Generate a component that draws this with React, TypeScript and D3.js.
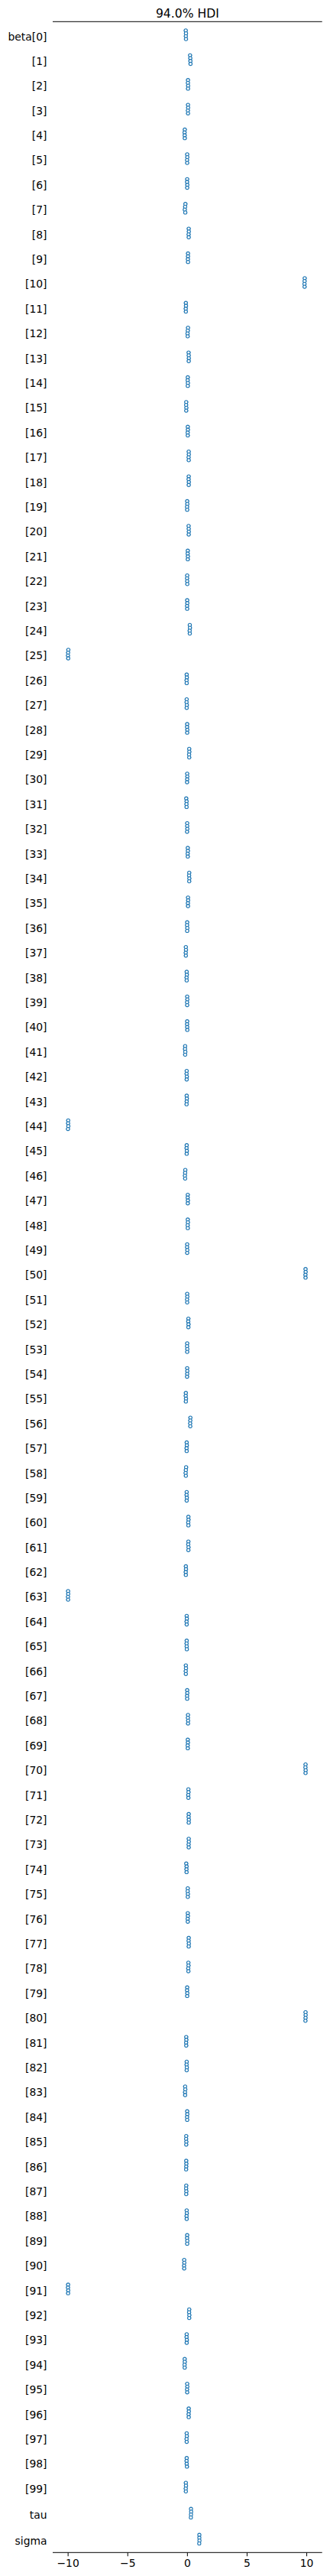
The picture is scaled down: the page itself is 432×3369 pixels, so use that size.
import React from "react";
import * as d3 from "d3";

const labels: string[] = [
  "beta[0]",
  ...Array.from({ length: 99 }, (_, i) => `[${i + 1}]`),
  "tau",
  "sigma",
];

// chain medians, 4 chains per row (beta[0..99], tau, sigma)
const chainMedians: number[][] = [
  [-0.14, -0.12, -0.13, -0.12],
  [0.22, 0.24, 0.25, 0.26],
  [0.05, 0.04, 0.06, 0.05],
  [0.05, 0.06, 0.04, 0.05],
  [-0.22, -0.24, -0.23, -0.22],
  [-0.02, -0.01, -0.03, -0.02],
  [-0.02, -0.03, -0.01, -0.02],
  [-0.17, -0.19, -0.22, -0.18],
  [0.11, 0.12, 0.1, 0.11],
  [0.05, 0.05, 0.04, 0.05],
  [9.83, 9.82, 9.81, 9.82],
  [-0.13, -0.12, -0.14, -0.13],
  [0.05, 0.03, 0.01, 0.02],
  [0.1, 0.11, 0.12, 0.11],
  [0.03, 0.02, 0.04, 0.03],
  [-0.1, -0.11, -0.09, -0.1],
  [0.03, 0.04, 0.02, 0.03],
  [0.11, 0.12, 0.1, 0.11],
  [0.11, 0.1, 0.12, 0.11],
  [-0.02, -0.01, -0.03, -0.02],
  [0.1, 0.11, 0.12, 0.11],
  [0.03, 0.02, 0.04, 0.03],
  [-0.02, -0.03, -0.02, -0.01],
  [-0.02, -0.01, -0.03, -0.02],
  [0.2, 0.21, 0.19, 0.2],
  [-9.98, -10.0, -10.01, -9.99],
  [-0.06, -0.05, -0.07, -0.06],
  [-0.06, -0.07, -0.05, -0.06],
  [-0.02, -0.03, -0.01, -0.02],
  [0.15, 0.16, 0.14, 0.15],
  [-0.02, -0.01, -0.02, -0.03],
  [-0.1, -0.07, -0.08, -0.07],
  [-0.02, -0.02, -0.01, -0.03],
  [0.03, 0.04, 0.02, 0.03],
  [0.15, 0.14, 0.16, 0.15],
  [0.05, 0.06, 0.04, 0.05],
  [-0.02, -0.03, -0.01, -0.02],
  [-0.13, -0.12, -0.14, -0.13],
  [-0.06, -0.05, -0.07, -0.06],
  [-0.02, -0.01, -0.03, -0.02],
  [-0.02, -0.03, -0.02, -0.01],
  [-0.19, -0.2, -0.18, -0.19],
  [-0.06, -0.07, -0.05, -0.06],
  [-0.06, -0.05, -0.06, -0.07],
  [-9.99, -10.0, -9.98, -10.01],
  [-0.06, -0.07, -0.05, -0.06],
  [-0.18, -0.19, -0.21, -0.19],
  [0.03, 0.02, 0.04, 0.03],
  [0.03, 0.04, 0.02, 0.03],
  [-0.02, -0.03, -0.01, -0.02],
  [9.9, 9.91, 9.89, 9.9],
  [-0.02, -0.01, -0.03, -0.02],
  [0.08, 0.07, 0.09, 0.08],
  [-0.02, -0.03, -0.01, -0.02],
  [-0.02, -0.01, -0.02, -0.03],
  [-0.13, -0.14, -0.12, -0.13],
  [0.25, 0.24, 0.23, 0.24],
  [-0.06, -0.05, -0.07, -0.06],
  [-0.11, -0.13, -0.15, -0.13],
  [-0.06, -0.07, -0.05, -0.06],
  [0.08, 0.09, 0.07, 0.08],
  [0.08, 0.07, 0.09, 0.08],
  [-0.13, -0.12, -0.14, -0.13],
  [-10.0, -9.99, -10.01, -10.0],
  [-0.06, -0.05, -0.07, -0.06],
  [-0.06, -0.07, -0.06, -0.05],
  [-0.13, -0.12, -0.14, -0.13],
  [-0.02, -0.01, -0.03, -0.02],
  [0.05, 0.04, 0.06, 0.05],
  [0.03, 0.04, 0.02, 0.03],
  [9.9, 9.89, 9.91, 9.9],
  [0.08, 0.09, 0.07, 0.08],
  [0.11, 0.1, 0.12, 0.11],
  [0.11, 0.12, 0.1, 0.11],
  [-0.1, -0.07, -0.08, -0.07],
  [0.03, 0.02, 0.04, 0.03],
  [0.03, 0.04, 0.02, 0.03],
  [0.11, 0.1, 0.12, 0.11],
  [0.08, 0.09, 0.07, 0.08],
  [-0.02, -0.03, -0.01, -0.02],
  [9.9, 9.91, 9.9, 9.89],
  [-0.1, -0.09, -0.11, -0.1],
  [-0.06, -0.07, -0.05, -0.06],
  [-0.19, -0.18, -0.2, -0.19],
  [-0.02, -0.01, -0.03, -0.02],
  [-0.1, -0.11, -0.09, -0.1],
  [-0.1, -0.09, -0.1, -0.11],
  [-0.1, -0.11, -0.09, -0.1],
  [-0.06, -0.05, -0.07, -0.06],
  [-0.02, -0.03, -0.01, -0.02],
  [-0.27, -0.26, -0.28, -0.27],
  [-10.0, -10.01, -9.99, -10.0],
  [0.15, 0.14, 0.16, 0.15],
  [-0.06, -0.07, -0.05, -0.06],
  [-0.23, -0.22, -0.24, -0.23],
  [-0.02, -0.01, -0.03, -0.02],
  [0.11, 0.12, 0.1, 0.11],
  [-0.06, -0.05, -0.07, -0.06],
  [-0.06, -0.07, -0.06, -0.04],
  [-0.13, -0.12, -0.14, -0.13],
  [0.3, 0.31, 0.3, 0.29],
  [1.0, 1.0, 1.01, 0.99],
];

// half width of each chain's 94% HDI, per variable (beta, tau, sigma)
const hdiHalfWidth: number[] = [0.17, 0.12, 0.1];

const xTicks: number[] = [-10, -5, 0, 5, 10];
const title = "94.0% HDI";

const W = 432;
const H = 3369;
const left = 69;
const right = 421.7;
const topY = 28.3;
const bottomY = 3338.3;
const varGap = 1.05;

function rowPos(i: number): number {
  if (i < 100) return i;
  return 99 + (i - 99) * varGap;
}

export default function App() {
  const x = d3.scaleLinear().domain([-11.29, 11.29]).range([left, right]);
  const y = d3.scaleLinear().domain([0, 99 + 2 * varGap]).range([45.5, 3320.8]);
  const chainOffsets = [-5.6, -1.87, 1.87, 5.6];
  const font = "DejaVu Sans, sans-serif";
  const fmt = (v: number) => (v < 0 ? "\u2212" + Math.abs(v) : String(v));
  const color = "#1f77b4";
  const hw = (i: number) => (i < 100 ? hdiHalfWidth[0] : hdiHalfWidth[i - 99]);
  return (
    <svg
      width={W}
      height={H}
      style={{ position: "absolute", left: 0, top: 0, display: "block", background: "white" }}
    >
      <rect x={0} y={0} width={W} height={H} fill="white" />
      <text x={(left + right) / 2} y={23.3} textAnchor="middle" fontFamily={font} fontSize={15.6} fill="#000">
        {title}
      </text>
      <line x1={left} x2={right} y1={topY} y2={topY} stroke="#000" strokeWidth={1} />
      <line x1={left} x2={right} y1={bottomY} y2={bottomY} stroke="#000" strokeWidth={1} />
      {xTicks.map((t) => (
        <g key={t}>
          <line x1={x(t)} x2={x(t)} y1={bottomY} y2={bottomY + 4.9} stroke="#000" strokeWidth={1} />
          <text x={x(t)} y={3356.5} textAnchor="middle" fontFamily={font} fontSize={13.9} fill="#000">
            {fmt(t)}
          </text>
        </g>
      ))}
      {labels.map((lab, i) => (
        <text
          key={lab}
          x={61.5}
          y={y(rowPos(i)) + 2}
          textAnchor="end"
          dominantBaseline="central"
          fontFamily={font}
          fontSize={13.9}
          fill="#000"
        >
          {lab}
        </text>
      ))}
      {chainMedians.map((row, i) =>
        row.map((v, c) => (
          <line
            key={`l${i}-${c}`}
            x1={x(v - hw(i))}
            x2={x(v + hw(i))}
            y1={y(rowPos(i)) + chainOffsets[c]}
            y2={y(rowPos(i)) + chainOffsets[c]}
            stroke={color}
            strokeWidth={1.1}
          />
        ))
      )}
      {chainMedians.map((row, i) =>
        row.map((v, c) => (
          <circle
            key={`${i}-${c}`}
            cx={x(v)}
            cy={y(rowPos(i)) + chainOffsets[c]}
            r={2.1}
            fill="white"
            stroke={color}
            strokeWidth={1.1}
          />
        ))
      )}
    </svg>
  );
}
